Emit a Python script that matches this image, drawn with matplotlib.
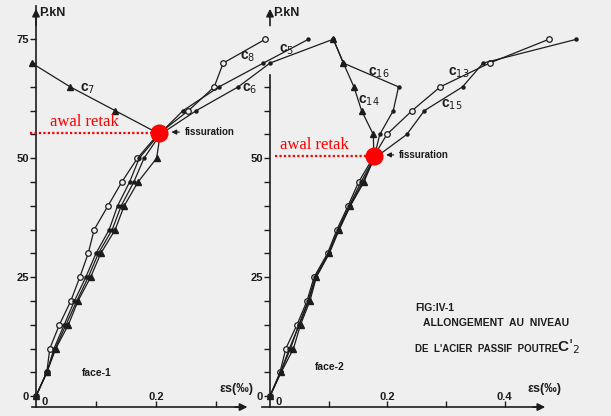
import matplotlib
matplotlib.use('Agg')
import matplotlib.pyplot as plt

plt.rcParams['font.family'] = ['Liberation Sans', 'DejaVu Sans']

# load steps (kN)
loads = [0, 5, 10, 15, 20, 25, 30, 35, 40, 45, 50, 55, 60, 65, 70, 75]
loads_c7 = loads[:15]

# face-1 : steel strain (per mille)
c5 = [0, 0.018, 0.030, 0.047, 0.064, 0.083, 0.100, 0.122, 0.136, 0.156, 0.172, 0.205, 0.245, 0.305, 0.379, 0.454]
c6 = [0, 0.018, 0.032, 0.050, 0.068, 0.087, 0.104, 0.127, 0.142, 0.163, 0.180, 0.207, 0.267, 0.337, 0.390, 0.495]
c7 = [0, 0.018, 0.033, 0.054, 0.070, 0.091, 0.108, 0.132, 0.147, 0.170, 0.201, 0.207, 0.132, 0.057, -0.007]
c8 = [0, 0.018, 0.023, 0.039, 0.058, 0.073, 0.087, 0.097, 0.120, 0.143, 0.169, 0.203, 0.254, 0.297, 0.312, 0.382]

# face-2
c13 = [0, 0.017, 0.027, 0.046, 0.063, 0.075, 0.098, 0.114, 0.133, 0.151, 0.175, 0.199, 0.242, 0.290, 0.374, 0.475]
c14 = [0, 0.019, 0.040, 0.052, 0.068, 0.079, 0.101, 0.118, 0.137, 0.160, 0.177, 0.176, 0.156, 0.143, 0.125, 0.108]
c15 = [0, 0.018, 0.033, 0.050, 0.066, 0.078, 0.100, 0.117, 0.136, 0.158, 0.178, 0.233, 0.263, 0.328, 0.363, 0.522]
c16 = [0, 0.018, 0.035, 0.049, 0.065, 0.077, 0.100, 0.116, 0.135, 0.155, 0.177, 0.187, 0.210, 0.219, 0.125, 0.108]

# first cracking ("awal retak")
crack_1 = (0.205, 55.2)
crack_2 = (0.177, 50.4)

ink = '#1c1c1c'
paper = '#efefef'

fig = plt.figure(figsize=(6.11, 4.16), dpi=100)
fig.patch.set_facecolor(paper)
ax1 = fig.add_axes([36 / 611, 8 / 416, 216 / 611, 402 / 416])
ax2 = fig.add_axes([270 / 611, 8 / 416, 278 / 611, 402 / 416])
ax1.set_xlim(0, 0.36)
ax2.set_xlim(0, 0.4736)

x_axis_y = -2.3


def frame(ax, x_from, x_to, y_top, xticks, xlabels, ymax_tick, ylabels):
    ax.set_facecolor('none')
    ax.set_ylim(-2.5, 82)
    ax.spines['top'].set_visible(False)
    ax.spines['right'].set_visible(False)
    ax.spines['bottom'].set_position(('data', x_axis_y))
    ax.spines['bottom'].set_bounds(x_from, x_to - 0.01)
    ax.spines['left'].set_bounds(x_axis_y, y_top)
    for s in ['bottom', 'left']:
        ax.spines[s].set_color(ink)
        ax.spines[s].set_linewidth(1.2)
    # arrow heads (the face-2 axis is broken under the c5/c6 curves)
    ax.annotate('', xy=(x_to, x_axis_y), xytext=(x_to - 0.03, x_axis_y),
                arrowprops=dict(arrowstyle='-|>', color=ink, lw=1.2, mutation_scale=11))
    ax.annotate('', xy=(0, 82), xytext=(0, 77.3),
                arrowprops=dict(arrowstyle='-|>', color=ink, lw=1.2, mutation_scale=11))
    yt = list(range(0, ymax_tick + 1, 5))
    ax.set_yticks(yt)
    ax.set_yticklabels([str(v) if v in ylabels else '' for v in yt], fontweight='bold')
    ax.tick_params(axis='y', direction='out', length=4, width=1, colors=ink, labelsize=8, pad=1)
    ax.set_xticks(xticks)
    ax.set_xticklabels(xlabels, fontweight='bold')
    ax.tick_params(axis='x', direction='in', length=4, width=1, colors=ink, labelsize=8, pad=-11)
    ax.text(0.005, 80.5, 'P.kN', fontsize=9, fontweight='bold', color=ink, va='center')
    ax.text(0.01, -1.2, '0', fontsize=8, fontweight='bold', color=ink, va='center')


frame(ax1, -0.006, 0.357, 82, [0.1, 0.2, 0.3], ['', '0.2', ''], 75, [0, 25, 50, 75])
frame(ax2, -0.013, 0.4736, 67.4, [0.1, 0.2, 0.3, 0.4], ['', '0.2', '', '0.4'], 65, [0, 25, 50])

line_kw = dict(color=ink, lw=0.9, clip_on=False, zorder=3)
circ = dict(marker='o', ms=4, mfc=paper, mec=ink, mew=0.9)
tri = dict(marker='^', ms=4, mfc=ink, mec=ink)
dot = dict(marker='o', ms=2.2, mfc=ink, mec=ink)

ax1.plot(c8, loads, **line_kw, **circ)
ax1.plot(c5, loads, **line_kw, **dot)
ax1.plot(c6, loads, **line_kw, **dot)
ax1.plot(c7, loads_c7, **line_kw, **tri)

ax2.plot(c13, loads, **line_kw, **circ)
ax2.plot(c14, loads, **line_kw, **tri)
ax2.plot(c15, loads, **line_kw, **dot)
ax2.plot(c16, loads, **line_kw, **dot)

lab = dict(fontsize=10, fontweight='bold', color=ink, va='center', zorder=4)
ax1.text(0.073, 64.5, 'c$_7$', **lab)
ax1.text(0.340, 71.4, 'c$_8$', **lab)
ax1.text(0.405, 72.7, 'c$_5$', clip_on=False, **lab)
ax1.text(0.343, 64.7, 'c$_6$', **lab)
ax2.text(0.167, 68.0, 'c$_{16}$', **lab)
ax2.text(0.150, 62.0, 'c$_{14}$', **lab)
ax2.text(0.304, 67.9, 'c$_{13}$', **lab)
ax2.text(0.291, 61.3, 'c$_{15}$', **lab)

# cracking markers
for ax, (cx, cy), x0, tx in [(ax1, crack_1, -0.01, 0.023), (ax2, crack_2, 0.0085, 0.017)]:
    ax.plot([x0, cx], [cy, cy], color='red', lw=1.6, ls=(0, (1, 1)), clip_on=False, zorder=5)
    ax.plot(cx, cy, 'o', color='red', ms=12, clip_on=False, zorder=6)
    ax.text(tx, cy + 2.4, 'awal retak', color='red', fontsize=12,
            family='Liberation Serif', va='center', zorder=6)
    ax.annotate('fissuration', xy=(cx + 0.016, cy + 0.3), xytext=(cx + 0.043, cy + 0.3),
                fontsize=7, fontweight='bold', color=ink, va='center',
                arrowprops=dict(arrowstyle='-|>', color=ink, lw=0.9, mutation_scale=7))

ax1.text(0.077, 4.8, 'face-1', fontsize=7.5, fontweight='bold', color=ink, va='center')
ax2.text(0.077, 6.1, 'face-2', fontsize=7.5, fontweight='bold', color=ink, va='center')

ax2.text(0.247, 18.5, 'FIG:IV-1', fontsize=7.5, fontweight='bold', color=ink, va='center')
ax2.text(0.260, 15.3, 'ALLONGEMENT  AU  NIVEAU', fontsize=7.5, fontweight='bold', color=ink, va='center')
ax2.text(0.247, 9.9, "DE  L'ACIER  PASSIF  POUTRE", fontsize=7, fontweight='bold',
         color=ink, va='center')
ax2.text(0.489, 10.4, "C$'_2$", fontsize=11, fontweight='bold', color=ink, va='center', clip_on=False)

ax1.text(0.306, 1.5, 'εs(‰)', fontsize=9, fontweight='bold', color=ink, va='center')
ax2.text(0.438, 1.5, 'εs(‰)', fontsize=9, fontweight='bold', color=ink, va='center', clip_on=False)

fig.savefig('out.png', dpi=100, facecolor=paper)
